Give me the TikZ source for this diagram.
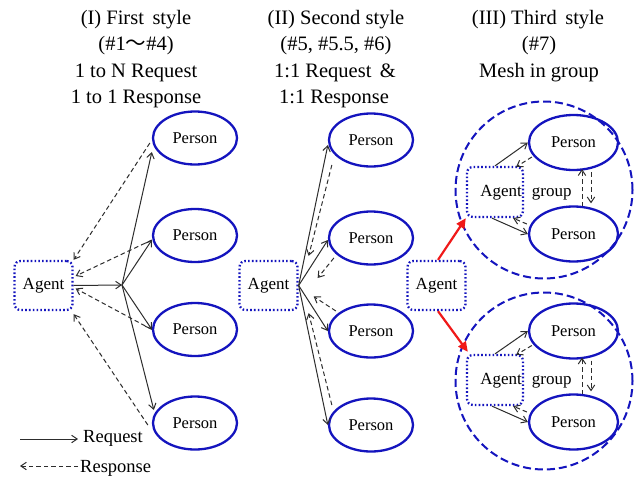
\documentclass[tikz,border=0pt]{standalone}
\usepackage{fontspec}
\setmainfont{Liberation Serif}
\newfontfamily\cjkfont{Noto Sans CJK JP}
\usetikzlibrary{arrows.meta,shapes.geometric}
\definecolor{nodeblue}{RGB}{20,20,190}
\definecolor{linegray}{RGB}{45,45,45}
\definecolor{arrowred}{RGB}{240,25,25}

\begin{document}
\begin{tikzpicture}[x=1pt,y=-1pt,
  title/.style={anchor=base, inner sep=0, font=\fontsize{20.5}{24}\selectfont},
  person/.style={ellipse, draw=nodeblue, line width=2.3pt, minimum width=84pt,
    minimum height=53pt, inner sep=0, font=\fontsize{16.5}{20}\selectfont},
  bigperson/.style={person, minimum width=89pt, minimum height=55pt},
  agentbox/.style={draw=nodeblue, line width=2.3pt, dash pattern=on 1.6pt off 2.2pt,
    rounded corners=6pt, minimum width=58pt, minimum height=49pt, inner sep=0,
    font=\fontsize{17}{20}\selectfont},
  groupring/.style={circle, draw=nodeblue, line width=2pt, dash pattern=on 8pt off 4pt,
    minimum size=177pt, inner sep=0},
  legendtext/.style={anchor=west, inner sep=0, font=\fontsize{18.5}{22}\selectfont},
  req/.style={draw=linegray, line width=1pt, -{Straight Barb[length=5.5pt,width=7.5pt]}},
  resp/.style={req, dash pattern=on 4.5pt off 3pt},
  push/.style={draw=arrowred, line width=2.2pt, -{Triangle[length=10pt,width=9pt]}},
]
\fill[white] (0,0) rectangle (637,479);
\useasboundingbox (0,0) rectangle (637,479);

% ---- column headings ----
\node[title] (h1a) at (136,24) {(I) First\, style};
\node[title] (h1b) at (136,50.5) {(\#1{\cjkfont 〜}\#4)};
\node[title] (h1c) at (136,77) {1 to N Request};
\node[title] (h1d) at (136,103.3) {1 to 1 Response};

\node[title] (h2a) at (336,24) {(II) Second style};
\node[title] (h2b) at (336,50.5) {(\#5, \#5.5, \#6)};
\node[title] (h2c) at (335,77) {1:1 Request \,\&};
\node[title] (h2d) at (334,103.3) {1:1 Response};

\node[title] (h3a) at (538,24) {(III) Third\, style};
\node[title] (h3b) at (539,50.5) {(\#7)};
\node[title] (h3c) at (539,77) {Mesh in group};

% ---- (I) first style: one request fanned out, separate responses ----
\node[agentbox] (a1) at (43.5,285.5) {Agent};
\coordinate (hub) at (122,285);
\node[person] (p1) at (195,138) {Person};
\node[person] (p2) at (195,235.5) {Person};
\node[person] (p3) at (195,329.5) {Person};
\node[person] (p4) at (195,423) {Person};

\draw[req] (a1.east) -- (hub);
\draw[req] (hub) -- ([yshift=-14pt]p1.west);
\draw[req] (hub) -- ([yshift=-4.5pt]p2.west);
\draw[req] (hub) -- (p3.west);
\draw[req] (hub) -- ([xshift=2pt,yshift=13pt]p4.west);

\draw[resp] ([xshift=-2pt,yshift=-5pt]p1.west) -- (a1.north east);
\draw[resp] ([yshift=-4.5pt]p2.west) -- ([xshift=2pt,yshift=9.5pt]a1.east);
\draw[resp] (p3.west) -- ([xshift=2pt,yshift=-3pt]a1.east);
\draw[resp] ([xshift=-4pt,yshift=-2pt]p4.west) -- ([yshift=-3pt]a1.south east);

% ---- (II) second style: one request and one response per person ----
\node[agentbox] (a2) at (268.5,285.5) {Agent};
\node[person] (q1) at (371,140) {Person};
\node[person] (q2) at (371,238) {Person};
\node[person] (q3) at (371,331) {Person};
\node[person] (q4) at (371,425) {Person};

\draw[req] (a2.east) -- ([yshift=-5pt]q1.west);
\draw[req] (a2.east) -- ([yshift=-2pt]q2.west);
\draw[req] (a2.east) -- (q3.west);
\draw[req] (a2.east) -- (q4.west);

\draw[resp] ([xshift=4pt,yshift=-25pt]q1.west) -- ([xshift=10pt,yshift=4pt]a2.north east);
\draw[resp] ([xshift=6pt,yshift=-20pt]q2.west) -- ([xshift=19pt,yshift=7.5pt]a2.east);
\draw[resp] ([xshift=8pt,yshift=20pt]q3.west) -- ([xshift=15pt,yshift=-11pt]a2.east);
\draw[resp] ([xshift=4pt,yshift=20pt]q4.west) -- ([xshift=10pt,yshift=-2pt]a2.south east);

% ---- (III) third style: agent hands over to meshed groups ----
\node[agentbox] (a3) at (436.5,285.5) {Agent};

\node[groupring] (g1) at (544,190) {};
\node[agentbox, minimum width=56pt, minimum height=50pt] (b1) at (495,192) {};
\node[inner sep=0, font=\fontsize{17}{20}\selectfont] (l1) at (526,193) {Agent\hspace{10pt}group};
\node[bigperson] (r1) at (573.5,142.5) {Person};
\node[bigperson] (r2) at (573.5,234) {Person};

\node[groupring] (g2) at (544,381) {};
\node[agentbox, minimum width=56pt, minimum height=50pt] (b2) at (495,380) {};
\node[inner sep=0, font=\fontsize{17}{20}\selectfont] (l2) at (526,381) {Agent\hspace{10pt}group};
\node[bigperson] (r3) at (573.5,331) {Person};
\node[bigperson] (r4) at (573.5,422) {Person};

\draw[push] ([xshift=1.5pt]a3.north) -- (b1.south west);
\draw[push] ([xshift=1.5pt]a3.south) -- ([xshift=2pt,yshift=2pt]b2.north west);

% mesh inside the upper group
\draw[req] (b1.north) -- (r1.west);
\draw[resp] ([xshift=4pt,yshift=-14.5pt]r1.west) -- ([xshift=-8pt,yshift=-1pt]b1.north east);
\draw[req] ([xshift=-3pt]b1.south) -- (r2.west);
\draw[resp] ([xshift=-1pt,yshift=10pt]r2.west) -- ([xshift=-11pt]b1.south east);
\draw[resp] ([xshift=8.5pt,yshift=-1pt]r2.north) -- ([xshift=8.5pt,yshift=2pt]r1.south);
\draw[resp] ([xshift=17.5pt,yshift=-1pt]r1.south) -- ([xshift=17.5pt,yshift=2pt]r2.north);

% mesh inside the lower group
\draw[req] (b2.north) -- (r3.west);
\draw[resp] ([xshift=4pt,yshift=-14.5pt]r3.west) -- ([xshift=-8pt,yshift=-1pt]b2.north east);
\draw[req] ([xshift=-3pt]b2.south) -- (r4.west);
\draw[resp] ([xshift=-1pt,yshift=10pt]r4.west) -- ([xshift=-11pt]b2.south east);
\draw[resp] ([xshift=8.5pt,yshift=-1pt]r4.north) -- ([xshift=8.5pt,yshift=2pt]r3.south);
\draw[resp] ([xshift=17.5pt,yshift=-1pt]r3.south) -- ([xshift=17.5pt,yshift=2pt]r4.north);

% ---- legend ----
\node[legendtext] (lreq) at (83,438) {Request};
\coordinate (lreqtail) at (20,439);
\draw[req] (lreqtail) -- ([xshift=-5pt,yshift=-1pt]lreq.west);
\node[legendtext] (lresp) at (80,468) {Response};
\coordinate (lresphead) at (20,466);
\draw[resp] ([xshift=-2pt,yshift=2pt]lresp.west) -- (lresphead);
\end{tikzpicture}
\end{document}
